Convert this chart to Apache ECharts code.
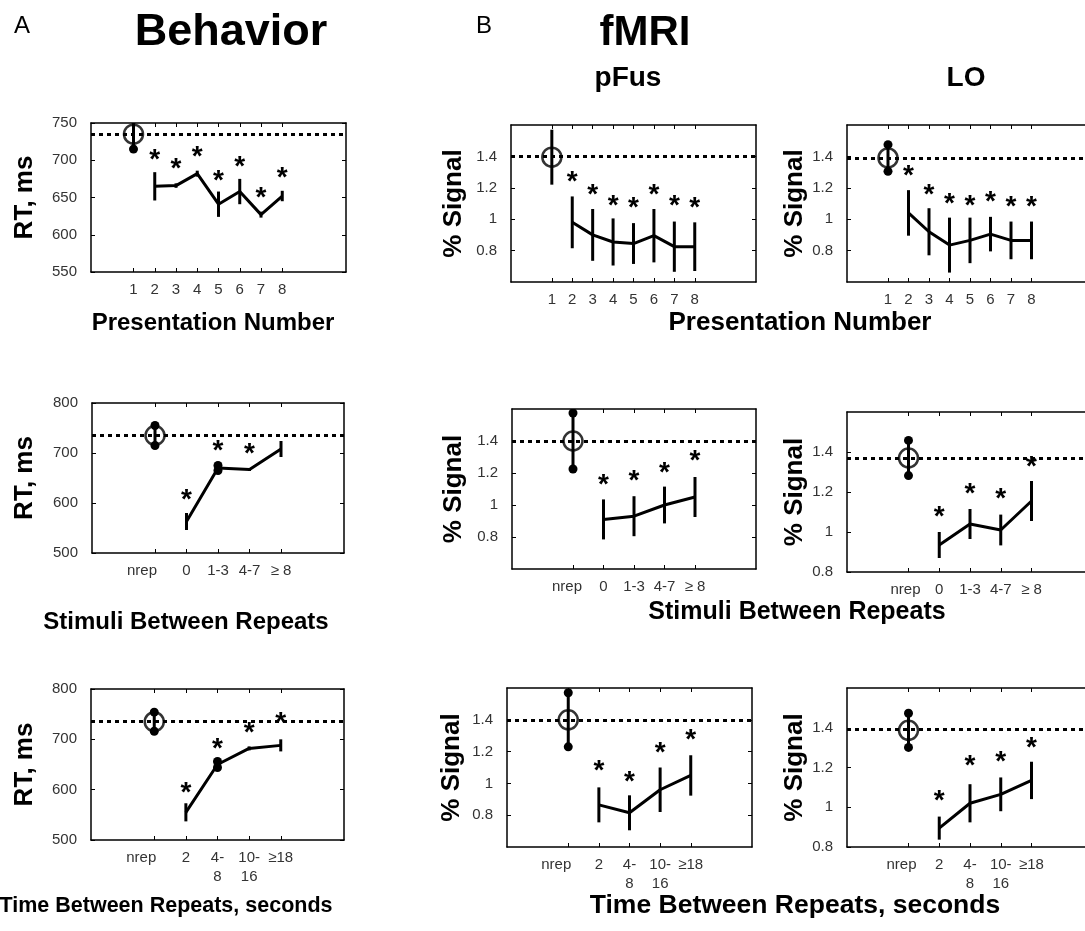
<!DOCTYPE html>
<html><head><meta charset="utf-8">
<script src="https://cdn.jsdelivr.net/npm/echarts@6/dist/echarts.min.js"></script>
<style>html,body{margin:0;padding:0;background:#fff}#c{width:1085px;height:931px}</style>
</head><body><div id="c"></div>
<script>
// ---------- categories ----------
const presCats = ['1','2','3','4','5','6','7','8'];
const stimCats = ['nrep','0','1-3','4-7','\u2265 8'];
const timeCats = ['nrep','2','4-\n8','10-\n16','\u226518'];

// ---------- Behavior (RT, ms) ----------
const behPresMean = [735, 665, 666, 682, 641, 658, 627, 652];
const behPresErr  = [20, 19, 3, 4, 17, 17, 4, 7];
const behPresStar = [null, 709, 697, 713, 681, 700, 658, 685];
const behPresDots = [1, 0, 0, 0, 0, 0, 0, 0];

const behStimMean = [735, 563, 670, 667, 708];
const behStimErr  = [20, 17, 5, 3, 16];
const behStimStar = [null, 620, 718, 711, null];
const behStimDots = [1, 0, 1, 0, 0];

const behTimeMean = [735, 555, 650, 682, 688];
const behTimeErr  = [19, 18, 6, 4, 12];
const behTimeStar = [null, 607, 695, 725, 745];
const behTimeDots = [1, 0, 1, 0, 0];

// ---------- fMRI pFus (% signal) ----------
const pfusPresMean = [1.395, 0.98, 0.90, 0.855, 0.845, 0.895, 0.825, 0.825];
const pfusPresErr  = [0.175, 0.165, 0.165, 0.15, 0.13, 0.17, 0.16, 0.155];
const pfusPresStar = [null, 1.28, 1.20, 1.13, 1.115, 1.20, 1.125, 1.115];
const pfusPresDots = [0, 0, 0, 0, 0, 0, 0, 0];

const pfusStimMean = [1.40, 0.91, 0.93, 1.0, 1.05];
const pfusStimErr  = [0.175, 0.125, 0.125, 0.115, 0.125];
const pfusStimStar = [null, 1.17, 1.19, 1.24, 1.315];
const pfusStimDots = [1, 0, 0, 0, 0];

const pfusTimeMean = [1.40, 0.865, 0.815, 0.96, 1.05];
const pfusTimeErr  = [0.17, 0.11, 0.11, 0.14, 0.127];
const pfusTimeStar = [null, 1.12, 1.048, 1.234, 1.317];
const pfusTimeDots = [1, 0, 0, 0, 0];

// ---------- fMRI LO (% signal) ----------
const loPresMean = [1.39, 1.04, 0.92, 0.835, 0.865, 0.905, 0.865, 0.865];
const loPresErr  = [0.085, 0.145, 0.15, 0.175, 0.145, 0.11, 0.12, 0.12];
const loPresStar = [null, 1.32, 1.20, 1.14, 1.13, 1.15, 1.12, 1.12];
const loPresDots = [1, 0, 0, 0, 0, 0, 0, 0];

const loStimMean = [1.37, 0.935, 1.04, 1.01, 1.155];
const loStimErr  = [0.088, 0.065, 0.075, 0.077, 0.1];
const loStimStar = [null, 1.108, 1.225, 1.2, 1.358];
const loStimDots = [1, 0, 0, 0, 0];

const loTimeMean = [1.387, 0.895, 1.02, 1.065, 1.135];
const loTimeErr  = [0.086, 0.058, 0.096, 0.085, 0.094];
const loTimeStar = [null, 1.067, 1.24, 1.26, 1.333];
const loTimeDots = [1, 0, 0, 0, 0];

// ---------- tick labels ----------
const rtPresTicks = [550, 600, 650, 700, 750];
const rtTicks = [500, 600, 700, 800];
const sigTicks = [0.8, 1, 1.2, 1.4];

// ---------- layout ----------
const FONT = '"Liberation Sans", Arial, Helvetica, sans-serif';
const panels = [
  {rect:[91,123,255,149], cats:presCats, off:1, x:[-1,11], y:[550,750], ticks:rtPresTicks, mean:behPresMean, err:behPresErr, star:behPresStar, dots:behPresDots, yName:'RT, ms', gap:53, shift:0},
  {rect:[511,125,245,157], cats:presCats, off:1, x:[-1,11], y:[0.6,1.6], ticks:sigTicks, mean:pfusPresMean, err:pfusPresErr, star:pfusPresStar, dots:pfusPresDots, yName:'% Signal', gap:44, shift:0},
  {rect:[847,125,246,157], cats:presCats, off:1, x:[-1,11], y:[0.6,1.6], ticks:sigTicks, mean:loPresMean, err:loPresErr, star:loPresStar, dots:loPresDots, yName:'% Signal', gap:37, shift:0},
  {rect:[92,403,252,150], cats:stimCats, off:2, x:[0,8], y:[500,800], ticks:rtTicks, mean:behStimMean, err:behStimErr, star:behStimStar, dots:behStimDots, yName:'RT, ms', gap:54, shift:13},
  {rect:[512,409,244,160], cats:stimCats, off:2, x:[0,8], y:[0.6,1.6], ticks:sigTicks, mean:pfusStimMean, err:pfusStimErr, star:pfusStimStar, dots:pfusStimDots, yName:'% Signal', gap:45, shift:6},
  {rect:[847,412,246,160], cats:stimCats, off:2, x:[0,8], y:[0.8,1.6], ticks:sigTicks, mean:loStimMean, err:loStimErr, star:loStimStar, dots:loStimDots, yName:'% Signal', gap:37, shift:3},
  {rect:[91,689,253,151], cats:timeCats, off:2, x:[0,8], y:[500,800], ticks:rtTicks, mean:behTimeMean, err:behTimeErr, star:behTimeStar, dots:behTimeDots, yName:'RT, ms', gap:53, shift:13},
  {rect:[507,688,245,159], cats:timeCats, off:2, x:[0,8], y:[0.6,1.6], ticks:sigTicks, mean:pfusTimeMean, err:pfusTimeErr, star:pfusTimeStar, dots:pfusTimeDots, yName:'% Signal', gap:42, shift:12},
  {rect:[847,688,246,159], cats:timeCats, off:2, x:[0,8], y:[0.8,1.6], ticks:sigTicks, mean:loTimeMean, err:loTimeErr, star:loTimeStar, dots:loTimeDots, yName:'% Signal', gap:37, shift:7}
];

const grids = [], xAxes = [], yAxes = [], series = [];
const axLine = {show:true, onZero:false, lineStyle:{color:'#000', width:1.5}};
const tickStyle = {color:'#000', width:1};
const LABEL_SIZE = 15;
const labelBase = {color:'#333', fontSize:LABEL_SIZE, fontFamily:FONT, margin:8, lineHeight:19, hideOverlap:false};

panels.forEach((p, gi) => {
  grids.push({left:p.rect[0], top:p.rect[1], width:p.rect[2], height:p.rect[3], containLabel:false, outerBoundsMode:'none', show:false});
  const xPos = p.cats.map((c, i) => i + p.off);
  const fmt = v => {
    const k = Math.round(v) - p.off;
    return p.cats[k] !== undefined ? p.cats[k] : '';
  };
  const xb = xAxes.length, yb = yAxes.length;
  // bottom axis: ticks + category labels (the first 'nrep' label is drawn separately when shifted)
  xAxes.push({gridIndex:gi, type:'value', position:'bottom', min:p.x[0], max:p.x[1], axisLine:axLine,
    axisTick:{show:true, inside:true, length:4, customValues:xPos, lineStyle:tickStyle},
    axisLabel:Object.assign({show:true, customValues:xPos.slice(p.shift ? 1 : 0), formatter:fmt}, labelBase),
    splitLine:{show:false}});
  // top axis: mirrored ticks
  xAxes.push({gridIndex:gi, type:'value', position:'top', min:p.x[0], max:p.x[1], axisLine:axLine,
    axisTick:{show:true, inside:true, length:4, customValues:xPos, lineStyle:tickStyle},
    axisLabel:{show:false}, splitLine:{show:false}});
  // 'nrep' label sits slightly left of its tick in the original
  if (p.shift) {
    xAxes.push({gridIndex:gi, type:'value', position:'bottom', min:p.x[0], max:p.x[1],
      axisLine:{show:false}, axisTick:{show:false}, splitLine:{show:false},
      axisLabel:Object.assign({show:true, customValues:[xPos[0]], formatter:fmt, align:'center', padding:[0, 2 * p.shift, 0, 0]}, labelBase)});
  }
  yAxes.push({gridIndex:gi, type:'value', position:'left', min:p.y[0], max:p.y[1], axisLine:axLine,
    axisTick:{show:true, inside:true, length:4, customValues:p.ticks, lineStyle:tickStyle},
    axisLabel:{show:true, customValues:p.ticks, color:'#333', fontSize:LABEL_SIZE, fontFamily:FONT, margin:14},
    splitLine:{show:false},
    name:p.yName, nameLocation:'middle', nameGap:p.gap,
    nameTextStyle:{fontFamily:FONT, fontWeight:'bold', fontSize:26, color:'#000'}});
  yAxes.push({gridIndex:gi, type:'value', position:'right', min:p.y[0], max:p.y[1], axisLine:axLine,
    axisTick:{show:true, inside:true, length:4, customValues:p.ticks, lineStyle:tickStyle},
    axisLabel:{show:false}, splitLine:{show:false}});

  // mean line (repeats) + dotted baseline (first / nrep value)
  series.push({type:'line', xAxisIndex:xb, yAxisIndex:yb, silent:true, symbol:'none', z:3,
    data:p.mean.slice(1).map((v, i) => [i + 1 + p.off, v]),
    lineStyle:{color:'#000', width:3},
    markLine:{silent:true, symbol:['none','none'], label:{show:false},
      lineStyle:{color:'#000', type:[4,4], width:3}, data:[{yAxis:p.mean[0]}]}});

  // error bars
  series.push({type:'custom', xAxisIndex:xb, yAxisIndex:yb, silent:true, z:4,
    data:p.mean.map((v, i) => [i + p.off, v - p.err[i], v + p.err[i], p.dots[i]]),
    renderItem:(params, api) => {
      const a = api.coord([api.value(0), api.value(1)]);
      const b = api.coord([api.value(0), api.value(2)]);
      const cs = params.coordSys;
      const children = [{type:'line', shape:{x1:a[0], y1:a[1], x2:b[0], y2:b[1]}, style:{stroke:'#000', lineWidth:3}}];
      if (api.value(3)) {
        children.push({type:'circle', shape:{cx:a[0], cy:a[1], r:4.5}, style:{fill:'#000'}});
        children.push({type:'circle', shape:{cx:b[0], cy:b[1], r:4.5}, style:{fill:'#000'}});
      }
      return {type:'group', clipPath:{type:'rect', shape:{x:cs.x, y:cs.y, width:cs.width, height:cs.height}}, children};
    }});

  // open circle for the first presentation / non-repeated
  series.push({type:'scatter', xAxisIndex:xb, yAxisIndex:yb, silent:true, z:5,
    data:[[p.off, p.mean[0]]], symbol:'circle', symbolSize:19,
    itemStyle:{color:'rgba(0,0,0,0)', borderColor:'#000', borderWidth:2.5}});

  // significance asterisks
  series.push({type:'custom', xAxisIndex:xb, yAxisIndex:yb, silent:true, z:6,
    data:p.star.map((v, i) => [i + p.off, v]).filter(d => d[1] !== null),
    renderItem:(params, api) => {
      const c = api.coord([api.value(0), api.value(1)]);
      return {type:'text', x:c[0], y:c[1] + 7,
        style:{text:'*', font:'bold 28px ' + FONT, fill:'#000', align:'center', verticalAlign:'middle', textAlign:'center', textVerticalAlign:'middle'}};
    }});
});

function txt(x, y, s, font) {
  return {type:'text', x:x, y:y, silent:true,
    style:{text:s, font:font, fill:'#000', align:'center', verticalAlign:'middle', textAlign:'center', textVerticalAlign:'middle'}};
}
const graphics = [
  txt(22, 26, 'A', '24px ' + FONT),
  txt(231, 33, 'Behavior', 'bold 45px ' + FONT),
  txt(484, 26, 'B', '24px ' + FONT),
  txt(645, 33, 'fMRI', 'bold 42px ' + FONT),
  txt(628, 78, 'pFus', 'bold 28px ' + FONT),
  txt(966, 78, 'LO', 'bold 28px ' + FONT),
  txt(213, 323, 'Presentation Number', 'bold 24px ' + FONT),
  txt(800, 323, 'Presentation Number', 'bold 26px ' + FONT),
  txt(186, 622, 'Stimuli Between Repeats', 'bold 24px ' + FONT),
  txt(797, 612, 'Stimuli Between Repeats', 'bold 25px ' + FONT),
  txt(166, 906, 'Time Between Repeats, seconds', 'bold 21.5px ' + FONT),
  txt(795, 906, 'Time Between Repeats, seconds', 'bold 26.5px ' + FONT)
];

const chart = echarts.init(document.getElementById('c'), null, {renderer:'canvas'});
chart.setOption({
  animation:false,
  backgroundColor:'#fff',
  grid:grids, xAxis:xAxes, yAxis:yAxes, series:series,
  graphic:{elements:graphics}
});
</script>
</body></html>
